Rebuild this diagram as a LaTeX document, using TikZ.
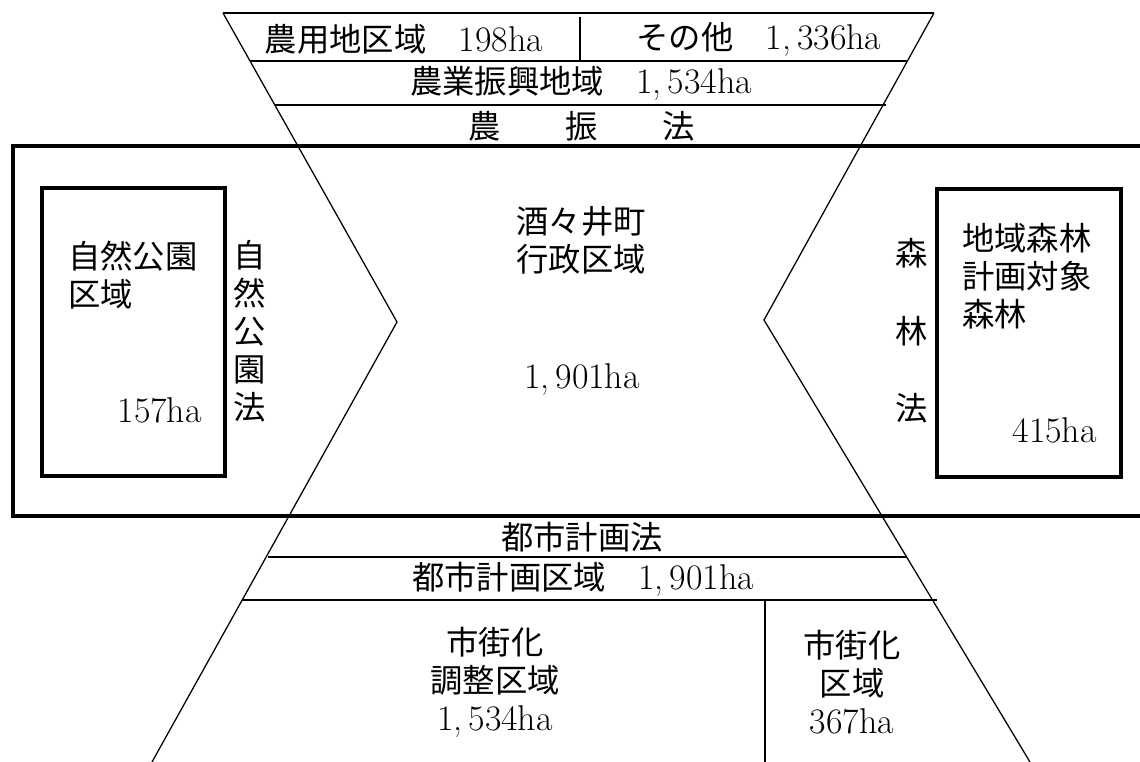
\documentclass[tikz,border=0pt]{standalone}
\usepackage{fontspec}
\newfontfamily\jpfont{Noto Sans CJK JP}
\usepackage{tikz}
\usetikzlibrary{positioning}

\newcommand{\areanum}[1]{{\rmfamily\fontsize{25.5}{27}\selectfont #1}}

\tikzset{
	thin line/.style={line width=0.9pt},
	divider/.style={line width=1.6pt},
	frame line/.style={line width=2.2pt},
	zone box/.style={line width=3pt},
	jp/.style={font=\jpfont\fontsize{23}{27}\selectfont, inner sep=0pt},
	jpwide/.style={font=\jpfont\fontsize{23}{55}\selectfont, inner sep=0pt}
}

\begin{document}
\begin{tikzpicture}[x=0.025cm, y=-0.025cm]
		\useasboundingbox (0,0) rectangle (1140,762);
		\draw[thin line] (223,13) -- (934,13);
		\draw[thin line] (250,61) -- (907,61);
		\draw[thin line] (275,105) -- (886,105);
		\draw[divider] (580,17) -- (580,61);
		\draw[frame line] (1142,146) -- (13,146) -- (13,516) -- (1142,516);
		\draw[thin line] (223,13) -- (397,322) -- (152,762);
		\draw[thin line] (934,13) -- (764,320) -- (1030,762);
		\draw[zone box] (42,188) rectangle (225,476);
		\draw[zone box] (937,189) rectangle (1121,477);
		\draw[thin line] (268,557) -- (907,557);
		\draw[thin line] (242,600) -- (937,600);
		\draw[divider] (765,600) -- (765,762);
		\node[jp] (agrizone) at (404,39) {農用地区域　\areanum{198ha}};
		\node[jp] (otherzone) at (759,39) {その他　\areanum{1,\,336ha}};
		\node[jp] (promoarea) at (581,83) {農業振興地域　\areanum{1,\,534ha}};
		\node[jp] (promolaw) at (582,126) {農　　振　　法};
		\node[jp, align=center] (townname) at (581,240) {酒々井町\\行政区域};
		\node[jp] (townarea) at (582,380) {\areanum{1,\,901ha}};
		\node[jp, align=left, anchor=west] (parkzone) at (68,275) {自然公園\\区域};
		\node[jp, anchor=east] (parkarea) at (202,410) {\areanum{157ha}};
		\node[jp, align=center] (parklaw) at (250,331) {自\\然\\公\\園\\法};
		\node[jpwide, align=center] (forestlaw) at (912,331) {森\\林\\法};
		\node[jp, align=left, anchor=west] (forestzone) at (962,276) {地域森林\\計画対象\\森林};
		\node[jp, anchor=east] (forestarea) at (1097,430) {\areanum{415ha}};
		\node[jp] (citylaw) at (582,537) {都市計画法};
		\node[jp] (cityarea) at (583,579) {都市計画区域　\areanum{1,\,901ha}};
		\node[jp, align=center] (ctrlzone) at (495,682) {市街化\\調整区域\\\areanum{1,\,534ha}};
		\node[jp, align=center] (urbanzone) at (852,682) {市街化\\区域\\\areanum{367ha}};
\end{tikzpicture}
\end{document}
